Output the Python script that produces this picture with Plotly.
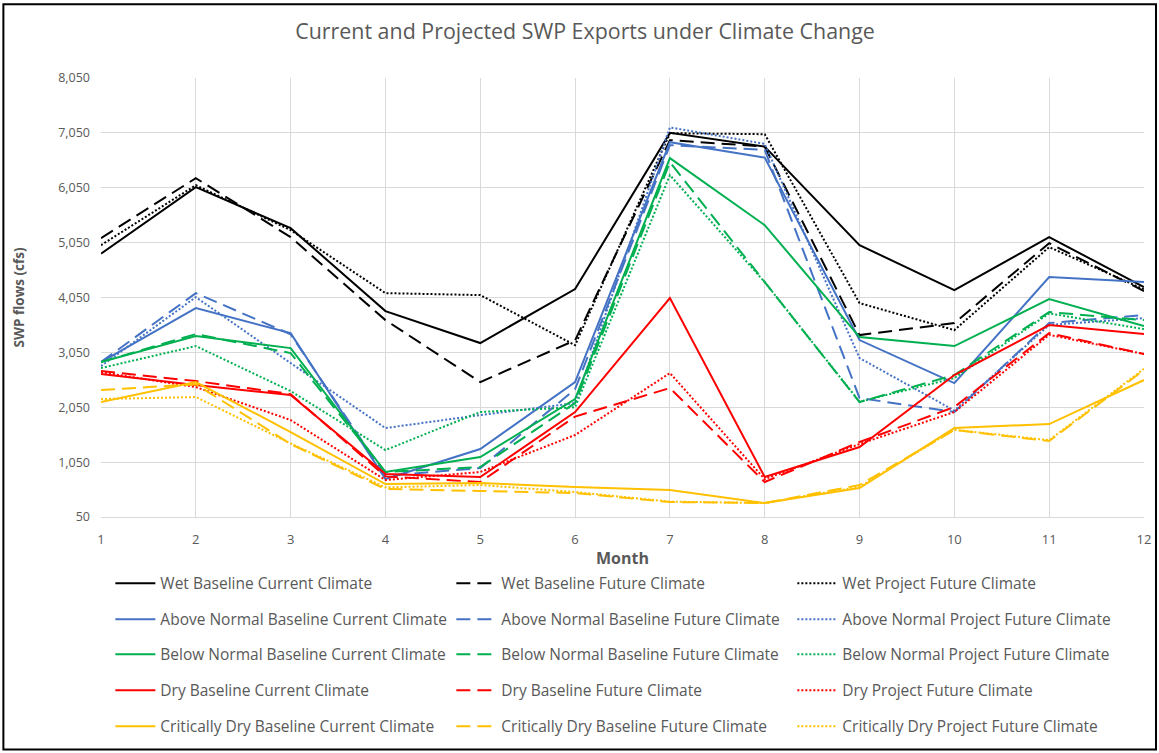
import plotly.graph_objects as go

months = list(range(1, 13))

wet_current = [4850, 6061, 5314, 3802, 3220, 4203, 7050, 6800, 5004, 4185, 5150, 4240]
wet_future = [5132, 6225, 5150, 3638, 2509, 3270, 6917, 6800, 3365, 3584, 5040, 4167]
wet_project = [5004, 6097, 5278, 4130, 4094, 3180, 7044, 7026, 3948, 3456, 4968, 4200]

an_current = [2873, 3857, 3401, 742, 1289, 2509, 6880, 6600, 3274, 2491, 4422, 4331]
an_future = [2873, 4130, 3380, 800, 942, 2380, 6826, 6740, 2218, 1963, 3584, 3729]
an_project = [2800, 4057, 2855, 1671, 1908, 2127, 7150, 6850, 2946, 1990, 3550, 3675]

bn_current = [2873, 3347, 3128, 870, 1143, 2200, 6590, 5369, 3329, 3165, 4021, 3529]
bn_future = [2873, 3383, 3037, 870, 960, 2127, 6516, 4330, 2145, 2637, 3784, 3638]
bn_project = [2764, 3165, 2345, 1270, 1963, 2050, 6280, 4330, 2150, 2582, 3760, 3474]

dry_current = [2655, 2454, 2272, 833, 778, 1963, 4039, 778, 1325, 2637, 3547, 3383]
dry_future = [2710, 2527, 2290, 790, 687, 1880, 2400, 687, 1416, 2054, 3401, 3019]
dry_project = [2690, 2418, 1817, 724, 870, 1544, 2673, 740, 1380, 1963, 3370, 3020]

cd_current = [2145, 2509, 1598, 651, 669, 596, 542, 305, 578, 1671, 1744, 2546]
cd_future = [2363, 2470, 1380, 560, 524, 487, 323, 305, 633, 1635, 1434, 2728]
cd_project = [2200, 2236, 1390, 590, 633, 505, 330, 305, 600, 1640, 1450, 2750]

y_ticks = [50, 1050, 2050, 3050, 4050, 5050, 6050, 7050, 8050]

groups = [
    ("Wet", "#000000", [wet_current, wet_future, wet_project]),
    ("Above Normal", "#4472C4", [an_current, an_future, an_project]),
    ("Below Normal", "#00B050", [bn_current, bn_future, bn_project]),
    ("Dry", "#FF0000", [dry_current, dry_future, dry_project]),
    ("Critically Dry", "#FFC000", [cd_current, cd_future, cd_project]),
]
kinds = ["Baseline Current Climate", "Baseline Future Climate", "Project Future Climate"]
dashes = ["solid", "14px,7px", "2px,2px"]

FONT = "Open Sans"
GRAY = "#595959"

fig = go.Figure()
legend_names = ["legend", "legend2", "legend3", "legend4", "legend5"]
for gi, (gname, color, series) in enumerate(groups):
    for ki, vals in enumerate(series):
        fig.add_trace(go.Scatter(
            x=months, y=vals, mode="lines",
            name=f"{gname} {kinds[ki]}",
            line=dict(color=color, width=2, dash=dashes[ki]),
            legend=legend_names[gi],
        ))

K = 1.0035
W, H = round(1159 * K), round(753 * K)
ml, mt = round(101 * K), round(78 * K)
mr = W - round(1144 * K)
mb = H - round(517 * K)
pw = W - ml - mr
ph = H - mt - mb

def px2x(p):
    return (p * K - ml) / pw

def px2y(p):
    return (H - mb - p * K) / ph

row_y = [584, 620, 655, 691, 727]
layout_legends = {}
for i, ln in enumerate(legend_names):
    layout_legends[ln] = dict(
        orientation="h", x=px2x(110), y=px2y(row_y[i]),
        xanchor="left", yanchor="middle",
        entrywidth=286, entrywidthmode="pixels",
        itemwidth=40, bgcolor="rgba(0,0,0,0)",
        font=dict(family=FONT, size=15.5, color=GRAY),
        traceorder="normal", itemclick=False, itemdoubleclick=False,
    )

fig.update_layout(
    width=W, height=H,
    margin=dict(l=ml, r=mr, t=mt, b=mb),
    paper_bgcolor="white", plot_bgcolor="white",
    font=dict(family=FONT, color=GRAY),
    title=dict(text="Current and Projected SWP Exports under Climate Change",
               x=583 / 1159, xref="container", xanchor="center",
               y=1 - 31 / 753, yref="container", yanchor="middle",
               font=dict(family=FONT, size=21.4, color=GRAY)),
    xaxis=dict(range=[1, 12], tickvals=months, showgrid=True, gridcolor="#D9D9D9",
               gridwidth=1, zeroline=False, showline=True, linecolor="#D9D9D9",
               ticks="", ticklabelstandoff=10,
               tickfont=dict(family=FONT, size=13, color=GRAY),
               title=dict(text="<b>Month</b>", font=dict(family=FONT, size=16, color=GRAY),
                          standoff=6)),
    yaxis=dict(range=[50, 8050], tickvals=y_ticks, tickformat=",", showgrid=True,
               gridcolor="#D9D9D9", gridwidth=1, zeroline=False, showline=False,
               ticks="", ticklabelstandoff=10,
               tickfont=dict(family=FONT, size=12.5, color=GRAY),
               title=dict(text="<b>SWP flows (cfs)</b>", font=dict(family=FONT, size=13.5, color=GRAY),
                          standoff=30)),
    shapes=[dict(type="rect", xref="paper", yref="paper",
                 x0=px2x(3), x1=px2x(1156), y0=px2y(750), y1=px2y(4),
                 line=dict(color="black", width=2), fillcolor="rgba(0,0,0,0)", layer="above")],
    **layout_legends,
)

fig.write_html(
    "out.html", config={"displayModeBar": False},
    post_script=("document.body.style.margin='0';document.body.style.padding='0';"
                 "document.body.style.overflow='hidden';"
                 "document.documentElement.style.overflow='hidden';"),
)
